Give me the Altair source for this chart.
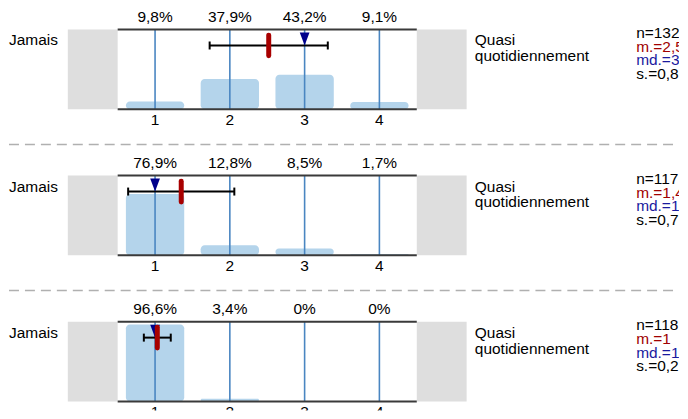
import altair as alt
import pandas as pd

# ---------------- data ----------------
categories = [1, 2, 3, 4]
tick_labels = ["1", "2", "3", "4"]
pct = [
    [9.8, 37.9, 43.2, 9.1],
    [76.9, 12.8, 8.5, 1.7],
    [96.6, 3.4, 0.0, 0.0],
]
n_values = [132, 117, 118]
means = [2.52, 1.35, 1.03]
medians = [3, 1, 1]
sds = [0.79, 0.71, 0.18]
mean_labels = ["2,5", "1,4", "1"]
median_labels = ["3", "1", "1"]
sd_labels = ["0,8", "0,7", "0,2"]
left_label = "Jamais"
right_label = "Quasi\nquotidiennement"

# ---------------- style / layout ----------------
FONT = "Liberation Sans"
FS = 15.5
PX = 80.0                  # pixels per 100 %
WIDTH = 672
XMIN = -0.9533
XMAX = XMIN + WIDTH / 75.0
YMAX = 1.2625
LO, HI = 0.5, 4.5          # extent of the scale panel
BOX_W = 2 / 3              # grey side boxes
HALF_BAR = 0.39
ERR_Y = 0.8
MEAN_H = 0.13
CAP_H = 0.05
MED_Y = 0.881
STATS_X = 7.4333

xsc = alt.Scale(domain=[XMIN, XMAX], nice=False, zero=False)


def X(f):
    return alt.X(f, type="quantitative", scale=xsc, axis=None, title=None)


def fmt_pct(v):
    if v == 0:
        return "0%"
    return f"{v:.1f}".replace(".", ",") + "%"


def panel(i, dashed, ymin, clip_ticks):
    ysc = alt.Scale(domain=[ymin, YMAX], nice=False, zero=False)

    def Y(f):
        return alt.Y(f, type="quantitative", scale=ysc, axis=None, title=None)

    bars = pd.DataFrame({
        "cat": categories,
        "tl": tick_labels,
        "p": [v / 100 for v in pct[i]],
        "lab": [fmt_pct(v) for v in pct[i]],
    })
    bars["x0"] = bars["cat"] - HALF_BAR
    bars["x1"] = bars["cat"] + HALF_BAR
    bars["y0"] = 0.0
    bars["y1"] = 1.0

    boxes = pd.DataFrame({"a": [LO - BOX_W, HI], "b": [LO, HI + BOX_W],
                          "y0": [0.0, 0.0], "y1": [1.0, 1.0]})
    frame = pd.DataFrame({"a": [LO, LO], "b": [HI, HI], "y": [0.0, 1.0]})

    m, s, md = means[i], sds[i], medians[i]
    err = pd.DataFrame({"lo": [m - s], "hi": [m + s], "y": [ERR_Y]})
    caps = pd.DataFrame({"x": [m - s, m + s], "y0": [ERR_Y - CAP_H] * 2,
                         "y1": [ERR_Y + CAP_H] * 2})
    mean_df = pd.DataFrame({"x": [m], "y0": [ERR_Y - MEAN_H], "y1": [ERR_Y + MEAN_H]})
    med_df = pd.DataFrame({"x": [md], "y": [MED_Y]})

    left_df = pd.DataFrame({"x": [XMIN], "y": [ERR_Y], "t": [left_label]})
    right_df = pd.DataFrame({"x": [HI + BOX_W + 0.11], "y": [ERR_Y], "t": [right_label]})
    stats = pd.DataFrame({
        "t": [f"n={n_values[i]}", f"m.={mean_labels[i]}",
              f"md.={median_labels[i]}", f"s.={sd_labels[i]}"],
        "c": ["#000000", "#a00000", "#1a1a9e", "#000000"],
        "k": [0, 1, 2, 3],
    })
    stats["x"] = STATS_X
    stats["y"] = 0.895 - stats["k"] * 0.1725

    layers = [
        alt.Chart(boxes).mark_rect(color="#dedede").encode(x=X("a"), x2="b", y=Y("y0"), y2="y1"),
        alt.Chart(bars).mark_bar(color="#b4d4eb", cornerRadius=4).encode(
            x=X("x0"), x2="x1", y=Y("y0"), y2="p"),
        alt.Chart(bars).mark_rule(color="#4a86c1", strokeWidth=1.6).encode(
            x=X("cat"), y=Y("y0"), y2="y1"),
        alt.Chart(frame).mark_rule(color="#3a3a3a", strokeWidth=2).encode(
            x=X("a"), x2="b", y=Y("y")),
        alt.Chart(bars).mark_text(font=FONT, fontSize=FS, dy=-13, baseline="middle",
                                  color="black").encode(x=X("cat"), y=Y("y1"), text="lab"),
        alt.Chart(bars).mark_text(font=FONT, fontSize=FS, dy=11, baseline="middle",
                                  color="black", clip=clip_ticks).encode(
            x=X("cat"), y=Y("y0"), text="tl"),
        alt.Chart(err).mark_rule(color="black", strokeWidth=2).encode(
            x=X("lo"), x2="hi", y=Y("y")),
        alt.Chart(caps).mark_rule(color="black", strokeWidth=2).encode(
            x=X("x"), y=Y("y0"), y2="y1"),
        alt.Chart(med_df).mark_point(shape="M-0.75,-1L0.75,-1L0,1Z", filled=True, size=169,
                                     color="#00008b", opacity=1).encode(x=X("x"), y=Y("y")),
        alt.Chart(mean_df).mark_rule(color="#a80000", strokeWidth=5, strokeCap="round").encode(
            x=X("x"), y=Y("y0"), y2="y1"),
        alt.Chart(left_df).mark_text(font=FONT, fontSize=FS, align="left",
                                     baseline="alphabetic", color="black").encode(
            x=X("x"), y=Y("y"), text="t"),
        alt.Chart(right_df).mark_text(font=FONT, fontSize=FS, align="left",
                                      baseline="alphabetic", color="black",
                                      lineBreak="\n", lineHeight=16).encode(
            x=X("x"), y=Y("y"), text="t"),
        alt.Chart(stats).mark_text(font=FONT, fontSize=FS, align="left",
                                   baseline="alphabetic", clip=True).encode(
            x=X("x"), y=Y("y"), text="t", color=alt.Color("c:N", scale=None)),
    ]
    if dashed:
        dash = pd.DataFrame({"a": [XMIN], "b": [XMAX], "y": [1.39]})
        layers.append(alt.Chart(dash).mark_rule(color="#b0b0b0", strokeWidth=1.5,
                                                strokeDash=[10, 6]).encode(
            x=X("a"), x2="b", y=Y("y")))
    height = (YMAX - ymin) * PX
    return alt.layer(*layers).properties(width=WIDTH, height=height)


chart = alt.vconcat(panel(0, False, -0.1125, False),
                    panel(1, True, -0.1125, False),
                    panel(2, True, -0.1125, True),
                    spacing=36.5, bounds="flush").properties(padding=0).configure_view(stroke=None)

chart.save("out.html", embed_options={"renderer": "svg", "actions": False})
